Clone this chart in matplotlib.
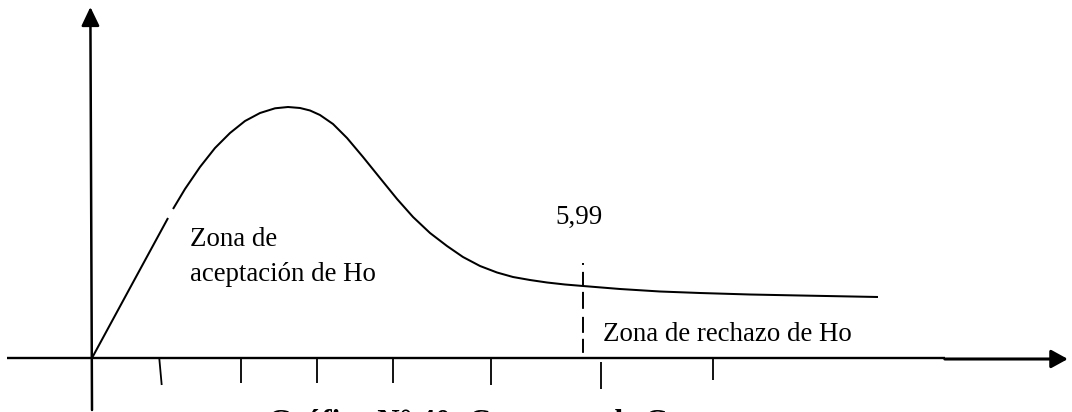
import numpy as np
import matplotlib
matplotlib.use("Agg")
import matplotlib.pyplot as plt

# =============================================================================
# DATOS (unidades del gráfico: origen en el cruce de los ejes)
# =============================================================================

# curva antes del pequeño corte
curva1_x = [0.000, 0.463, 0.927]
curva1_y = [0.000, 0.070, 0.140]

# curva después del corte
curva2_x = [0.988, 1.134, 1.317, 1.500, 1.683, 1.866, 2.049, 2.232, 2.390,
            2.537, 2.659, 2.780, 2.939, 3.110, 3.305, 3.512, 3.720, 3.915,
            4.122, 4.329, 4.524, 4.732, 4.939, 5.134, 5.341, 5.549, 5.768,
            5.988, 6.439, 6.927, 7.415, 8.024, 8.634, 9.585]
curva2_y = [0.149, 0.169, 0.191, 0.210, 0.225, 0.237, 0.245, 0.2497, 0.251,
            0.250, 0.2475, 0.243, 0.234, 0.220, 0.201, 0.180, 0.159, 0.141,
            0.125, 0.112, 0.101, 0.092, 0.0855, 0.081, 0.078, 0.0755, 0.0735,
            0.072, 0.069, 0.0665, 0.065, 0.0635, 0.0625, 0.061]

# marcas bajo el eje x (arriba, abajo)
marcas_x_arriba = [0.82, 1.82, 2.74, 3.67, 4.87, 6.21, 7.57]
marcas_x_abajo = [0.85, 1.82, 2.74, 3.67, 4.87, 6.21, 7.57]
marcas_y_arriba = [0.000, 0.000, 0.000, 0.000, 0.000, -0.004, 0.000]
marcas_y_abajo = [-0.027, -0.025, -0.025, -0.025, -0.027, -0.031, -0.022]

valor_critico = 5.99
critico_y = (0.095, 0.005)

etiqueta_critico = "5,99"
texto_aceptacion = ["Zona de", "aceptación de Ho"]
texto_rechazo = "Zona de rechazo de Ho"
titulo = "Gráfico N° 40: Campana de Gauss"

# =============================================================================
# FIGURA
# =============================================================================
plt.rcParams['font.family'] = ['Liberation Serif', 'DejaVu Serif']
plt.rcParams['lines.scale_dashes'] = False

fig = plt.figure(figsize=(10.72, 4.12), dpi=100)
ax = fig.add_axes([0, 0, 1, 1])
ax.set_xlim(-1.122, 11.951)
ax.set_ylim(-0.054, 0.358)
ax.axis('off')

# ejes con flecha
flecha = dict(arrowstyle='-|>,head_length=1.15,head_width=0.55', lw=1.8,
              color='black', shrinkA=0, shrinkB=0, mutation_scale=10)
ax.annotate('', xy=(-0.02, 0.351), xytext=(0.0, -0.052), arrowprops=flecha)
ax.plot([-1.04, 10.40], [0.0, 0.0], color='black', lw=1.7,
        solid_capstyle='butt')
flecha_x = dict(flecha, lw=2.2, arrowstyle='-|>,head_length=1.0,head_width=0.55')
ax.annotate('', xy=(11.90, -0.001), xytext=(10.40, -0.001), arrowprops=flecha_x)

# curva (con el pequeño corte del original)
ax.plot(curva1_x, curva1_y, color='black', lw=1.45, solid_capstyle='butt',
        solid_joinstyle='round')
ax.plot(curva2_x, curva2_y, color='black', lw=1.45, solid_capstyle='butt',
        solid_joinstyle='round')

# marcas
for xa, xb, ya, yb in zip(marcas_x_arriba, marcas_x_abajo,
                          marcas_y_arriba, marcas_y_abajo):
    ax.plot([xa, xb], [ya, yb], color='black', lw=1.3, solid_capstyle='butt')

# línea del valor crítico
ax.plot([valor_critico, valor_critico], list(critico_y), color='black', lw=1.4,
        dashes=[1.4, 5.0, 10.1, 4.3, 12.2, 5.8, 11.5, 4.3, 10.1, 5.0])

# textos
ax.text(1.195, 0.112, texto_aceptacion[0], fontsize=19.4, va='baseline')
ax.text(1.195, 0.077, texto_aceptacion[1], fontsize=19.4, va='baseline')
ax.text(5.646, 0.134, etiqueta_critico, fontsize=19.4, va='baseline')
ax.text(6.23, 0.017, texto_rechazo, fontsize=19.4, va='baseline')
# el título queda cortado por el borde inferior, igual que en el original
ax.text(2.146, -0.073, titulo, fontsize=22.3, fontweight='bold',
        va='baseline', clip_on=False)

fig.savefig("out.png", dpi=100)
